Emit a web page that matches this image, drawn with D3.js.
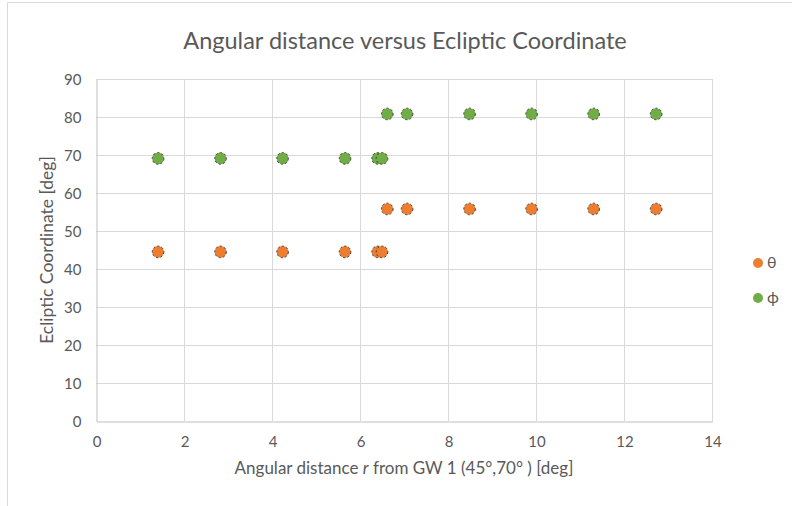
<!DOCTYPE html>
<html>
<head>
<meta charset="utf-8">
<script src="https://cdn.jsdelivr.net/npm/d3@7"></script>
<style>
  html, body { margin: 0; padding: 0; background: #fff; }
  svg { display: block; }
  text { font-family: Lato, "Open Sans", sans-serif; fill: #595959; }
</style>
</head>
<body>
<svg id="chart" width="792" height="506"></svg>
<script>
// Angular distance (deg) of each sample point from GW 1
const thetaR = [1.41, 2.83, 4.24, 5.66, 6.40, 6.50, 6.62, 7.07, 8.49, 9.90, 11.31, 12.73];
const thetaDeg = [44.5, 44.5, 44.5, 44.5, 44.5, 44.5, 55.8, 55.8, 55.8, 55.8, 55.8, 55.8];
const phiR = [1.41, 2.83, 4.24, 5.66, 6.40, 6.50, 6.62, 7.07, 8.49, 9.90, 11.31, 12.73];
const phiDeg = [69.1, 69.1, 69.1, 69.1, 69.1, 69.1, 80.8, 80.8, 80.8, 80.8, 80.8, 80.8];

const xTicks = [0, 2, 4, 6, 8, 10, 12, 14];
const yTicks = [0, 10, 20, 30, 40, 50, 60, 70, 80, 90];
const seriesNames = ["θ", "ϕ"];
const seriesColors = ["#ED7D31", "#70AD47"];

const svg = d3.select("#chart");

// chart frame
svg.append("path")
  .attr("d", "M7.5,506 L7.5,2.5 L792,2.5")
  .attr("fill", "none")
  .attr("stroke", "#d9d9d9")
  .attr("stroke-width", 1);

const plot = { left: 96, right: 712, top: 79, bottom: 421 };

const x = d3.scaleLinear().domain([0, 14]).range([plot.left, plot.right]);
const y = d3.scaleLinear().domain([0, 90]).range([plot.bottom, plot.top]);

// gridlines
const grid = svg.append("g");
grid.selectAll("line.v").data(xTicks.slice(1)).join("line")
  .attr("x1", d => x(d) + 0.5).attr("x2", d => x(d) + 0.5)
  .attr("y1", plot.top).attr("y2", plot.bottom)
  .attr("stroke", "#d9d9d9").attr("stroke-width", 1);
grid.selectAll("line.h").data(yTicks.slice(1)).join("line")
  .attr("x1", plot.left).attr("x2", plot.right)
  .attr("y1", d => y(d) + 0.5).attr("y2", d => y(d) + 0.5)
  .attr("stroke", "#d9d9d9").attr("stroke-width", 1);

// axes
const xAxis = svg.append("g")
  .attr("transform", `translate(0.5,${plot.bottom + 0.5})`)
  .call(d3.axisBottom(x).tickValues(xTicks).tickSize(0).tickPadding(15));
xAxis.select(".domain").attr("stroke", "#bfbfbf");
xAxis.selectAll("text").attr("font-size", 15).attr("fill", "#595959")
  .style("font-family", "Lato, sans-serif");

const yAxis = svg.append("g")
  .attr("transform", `translate(${plot.left + 0.5},0.5)`)
  .call(d3.axisLeft(y).tickValues(yTicks).tickSize(0).tickPadding(15));
yAxis.select(".domain").attr("stroke", "#bfbfbf");
yAxis.selectAll("text").attr("font-size", 15).attr("fill", "#595959")
  .style("font-family", "Lato, sans-serif");

// markers
const series = [
  { name: seriesNames[0], color: seriesColors[0], xs: thetaR, ys: thetaDeg },
  { name: seriesNames[1], color: seriesColors[1], xs: phiR, ys: phiDeg }
];

series.forEach(s => {
  const pts = s.xs.map((v, i) => [v, s.ys[i]]);
  svg.append("g").selectAll("circle").data(pts).join("circle")
    .attr("cx", d => x(d[0]))
    .attr("cy", d => y(d[1]))
    .attr("r", 5.8)
    .attr("fill", s.color)
    .attr("stroke", "#404040")
    .attr("stroke-width", 1)
    .attr("stroke-dasharray", "2.2,2.1");
});

// title
svg.append("text")
  .attr("x", 405).attr("y", 49)
  .attr("text-anchor", "middle")
  .attr("font-size", 23.5)
  .text("Angular distance versus Ecliptic Coordinate");

// axis titles
const xt = svg.append("text")
  .attr("x", 404).attr("y", 474)
  .attr("text-anchor", "middle")
  .attr("font-size", 17);
xt.append("tspan").text("Angular distance ");
xt.append("tspan").attr("font-style", "italic").text("r");
xt.append("tspan").text(" from GW 1 (45°,70° ) [deg]");

svg.append("text")
  .attr("transform", "translate(53,250) rotate(-90)")
  .attr("text-anchor", "middle")
  .attr("font-size", 17.5)
  .text("Ecliptic Coordinate [deg]");

// legend
const legend = svg.append("g");
series.forEach((s, i) => {
  const ly = 263 + i * 35;
  legend.append("circle")
    .attr("cx", 758).attr("cy", ly).attr("r", 5)
    .attr("fill", s.color);
  legend.append("text")
    .attr("x", 767).attr("y", ly + 5)
    .attr("font-size", 16)
    .text(s.name);
});
</script>
</body>
</html>
